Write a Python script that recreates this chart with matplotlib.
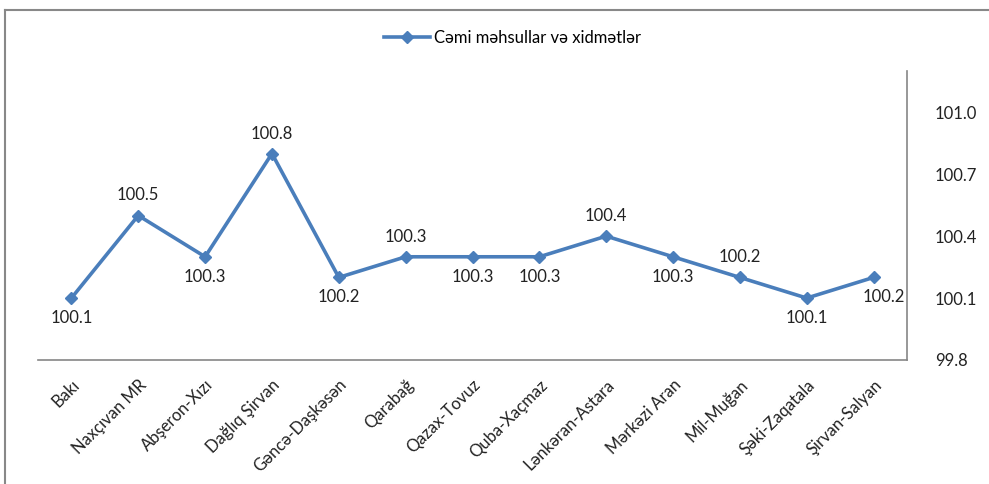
import matplotlib.pyplot as plt
from matplotlib.lines import Line2D

plt.rcParams['font.family'] = ['Lato', 'DejaVu Sans']

regions = ['Bakı', 'Naxçıvan MR', 'Abşeron-Xızı', 'Dağlıq Şirvan', 'Gəncə-Daşkəsən',
           'Qarabağ', 'Qazax-Tovuz', 'Quba-Xaçmaz', 'Lənkəran-Astara', 'Mərkəzi Aran',
           'Mil-Muğan', 'Şəki-Zaqatala', 'Şirvan-Salyan']
values = [100.1, 100.5, 100.3, 100.8, 100.2, 100.3, 100.3, 100.3, 100.4, 100.3,
          100.2, 100.1, 100.2]
# label above (1) or below (-1) the point
label_side = [-1, 1, -1, 1, -1, 1, -1, -1, 1, -1, 1, -1, -1]
yticks = [99.8, 100.1, 100.4, 100.7, 101.0]
series_name = 'Cəmi məhsullar və xidmətlər'

color = '#4a7ebb'
txt = '#222222'

fig = plt.figure(figsize=(9.89, 4.84), dpi=100)
ax = fig.add_axes([38/989, 1 - 360/484, (907 - 38)/989, (360 - 71)/484])

x = list(range(len(regions)))
ax.plot(x, values, color=color, lw=2.6, marker='D', markersize=6.5,
        label=series_name)

for i, v in enumerate(values):
    dx = 10 if i == len(values) - 1 else 0
    ax.annotate(f'{v:.1f}', (i, v), xytext=(dx, 20 * label_side[i]),
                textcoords='offset pixels', ha='center', va='center',
                fontsize=12, color=txt)

ax.set_xlim(-0.5, len(regions) - 0.5)
ax.set_ylim(99.8, 101.2)
ax.set_xticks(x)
ax.set_xticklabels(regions, rotation=45, ha='right', rotation_mode='anchor',
                   fontsize=12, color=txt)
ax.yaxis.tick_right()
ax.set_yticks(yticks)
ax.set_yticklabels([f'{t:.1f}' for t in yticks], fontsize=12, color=txt)
ax.tick_params(axis='both', length=0)
ax.tick_params(axis='y', pad=20)
ax.tick_params(axis='x', pad=12)

for s in ['top', 'left']:
    ax.spines[s].set_visible(False)
for s in ['bottom', 'right']:
    ax.spines[s].set_color('#868686')
    ax.spines[s].set_linewidth(1.2)

fig.legend(loc='center', bbox_to_anchor=(512/989, 1 - 38/484), frameon=False,
           fontsize=12, handlelength=2.8, handletextpad=0.2)

# chart border (top and left edges visible)
fig.add_artist(Line2D([5/989, 1], [1 - 10/484, 1 - 10/484], transform=fig.transFigure,
                      color='#888888', lw=1.5))
fig.add_artist(Line2D([5/989, 5/989], [0, 1 - 10/484], transform=fig.transFigure,
                      color='#888888', lw=1.5))

fig.savefig('out.png', dpi=100)
